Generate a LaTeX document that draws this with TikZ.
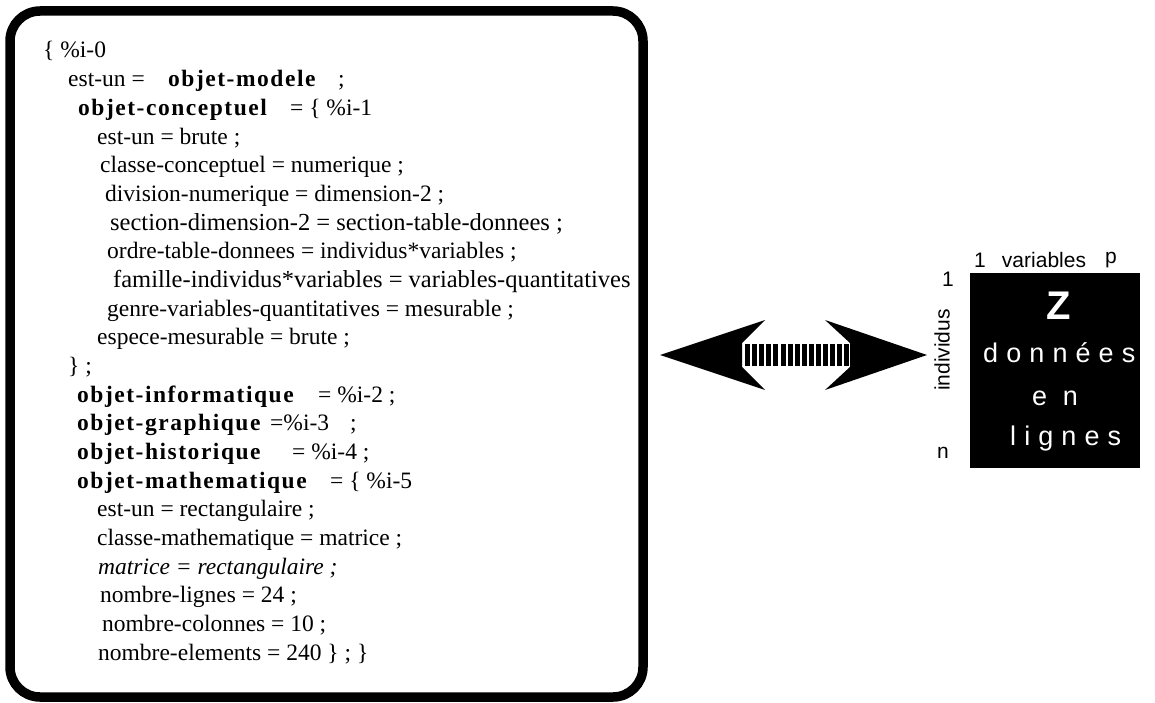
\documentclass[tikz,border=0pt]{standalone}
\usepackage{fontspec}
\setmainfont{Liberation Serif}
\newfontfamily\hsans{Liberation Sans}
\begin{document}
\begin{tikzpicture}[x=1pt,y=-1pt,
  txt/.style={anchor=base west, inner sep=0pt, font=\fontsize{23.5}{28}\selectfont},
  txtw/.style={anchor=base west, inner sep=0pt, font=\fontsize{24.5}{28}\selectfont},
  bld/.style={anchor=base west, inner sep=0pt, font=\fontsize{23.5}{28}\selectfont\bfseries\addfontfeature{LetterSpace=6.5}},
  itl/.style={anchor=base west, inner sep=0pt, font=\fontsize{23.5}{28}\selectfont\itshape},
  lbl/.style={inner sep=0pt, font=\hsans\fontsize{21}{24}\selectfont},
  wht/.style={anchor=base west, inner sep=0pt, text=white, font=\hsans\fontsize{27}{30}\selectfont\addfontfeature{LetterSpace=30}},
  headshape/.style={fill=black, draw=none}
]
\useasboundingbox (0,0) rectangle (1155,703);
\fill[white] (0,0) rectangle (1155,703);

% main frame
\node[draw, line width=9.5pt, rounded corners=30pt, minimum width=633pt, minimum height=686pt, inner sep=0pt] (frame) at (326.5,354) {};

% text lines
\def\b#1{{58+28.67*#1}}
\node[txt] (l0) at (43,\b0) {\{ \%i-0};
\node[txt] (l1a) at (68,\b1) {est-un =};
\node[bld] (l1b) at (168,\b1) {objet-modele};
\node[txt] (l1c) at (338,\b1) {;};
\node[bld] (l2a) at (78,\b2) {objet-conceptuel};
\node[txt] (l2b) at (290,\b2) {= \{ \%i-1};
\node[txt] (l3) at (97,\b3) {est-un = brute ;};
\node[txt] (l4) at (100,\b4) {classe-conceptuel = numerique ;};
\node[txt] (l5) at (105,\b5) {division-numerique = dimension-2 ;};
\node[txtw] (l6) at (110,\b6) {section-dimension-2 = section-table-donnees ;};
\node[txt] (l7) at (107,\b7) {ordre-table-donnees = individus*variables ;};
\node[txtw] (l8) at (113,\b8) {famille-individus*variables = variables-quantitatives};
\node[txt] (l9) at (107,\b9) {genre-variables-quantitatives = mesurable ;};
\node[txt] (l10) at (97,\b{10}) {espece-mesurable = brute ;};
\node[txt] (l11) at (68,\b{11}) {\} ;};
\node[bld] (l12a) at (77,\b{12}) {objet-informatique};
\node[txt] (l12b) at (318,\b{12}) {= \%i-2 ;};
\node[bld] (l13a) at (77,\b{13}) {objet-graphique};
\node[txt] (l13b) at (270,\b{13}) {=\%i-3};
\node[txt] (l13c) at (350,\b{13}) {;};
\node[bld] (l14a) at (77,\b{14}) {objet-historique};
\node[txt] (l14b) at (292,\b{14}) {= \%i-4 ;};
\node[bld] (l15a) at (77,\b{15}) {objet-mathematique};
\node[txt] (l15b) at (330,\b{15}) {= \{ \%i-5};
\node[txt] (l16) at (97,\b{16}) {est-un = rectangulaire ;};
\node[txt] (l17) at (97,\b{17}) {classe-mathematique = matrice ;};
\node[itl] (l18) at (98,\b{18}) {matrice = rectangulaire ;};
\node[txt] (l19) at (100,\b{19}) {nombre-lignes = 24 ;};
\node[txt] (l20) at (102,\b{20}) {nombre-colonnes = 10 ;};
\node[txt] (l21) at (98,\b{21}) {nombre-elements = 240 \} ; \}};

% double arrow
\fill[headshape] (660,355) -- (765,320) -- (742,343) -- (742,367) -- (765,390) -- cycle;
\fill[headshape] (927,355) -- (825,320) -- (850,343) -- (850,367) -- (825,390) -- cycle;
\foreach \k in {0,...,14} {
  \fill[black] ({745+7.1*\k},344) rectangle ({745+7.1*\k+5},366);
}

% right panel
\node[fill=black, minimum width=170pt, minimum height=195pt, inner sep=0pt] (zmat) at (1055,370.5) {};
\node[lbl] (c1) at (980,260) {1};
\node[lbl] (cvar) at (1044,260) {variables};
\node[lbl] (cp) at (1111,260) {p};
\node[lbl] (r1) at (948,279) {1};
\node[lbl] (rn) at (943,453) {n};
\node[lbl, rotate=90] (rind) at (942,350) {individus};
\node[inner sep=0pt, text=white, font=\hsans\bfseries\fontsize{40}{44}\selectfont] (zz) at (1059,306) {Z};
\node[wht] (don) at (983,362) {données};
\node[wht] (en) at (1032,405) {e n};
\node[wht] (lig) at (1010,445) {lignes};
\end{tikzpicture}
\end{document}
